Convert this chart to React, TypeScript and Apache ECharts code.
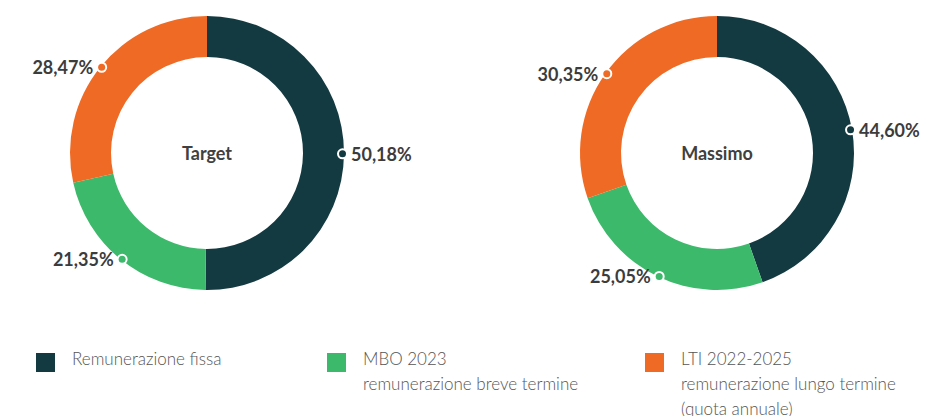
import React, { useEffect, useRef } from "react";
import * as echarts from "echarts";

const categories = ["Remunerazione fissa", "MBO 2023", "LTI 2022-2025"];
const legendSublines = ["", "remunerazione breve termine", "remunerazione lungo termine\n(quota annuale)"];
const chartTitles = ["Target", "Massimo"];
const targetValues = [50.18, 21.35, 28.47];
const massimoValues = [44.6, 25.05, 30.35];

const COLORS = ["#143a41", "#3db96b", "#ef6a24"];
const CENTERS = [
  [207, 153],
  [717, 153],
];
const LEGEND_LEFT = [36, 327, 645];
const FONT = "Lato, 'Open Sans', sans-serif";
// square swatch at the top of a tall, mostly empty icon box so that it lines up with the first text line
const LEGEND_ICON = "path://M0,0L0,0M0,7L19,7L19,26L0,26ZM31,75L31,75";

function fmt(v: number) {
  return v.toFixed(2).replace(".", ",") + "%";
}

function makePie(values: number[], idx: number) {
  const total = values.reduce((a, b) => a + b, 0);
  const base = { fontFamily: FONT, fontSize: 18, fontWeight: "bold", color: "#3c3c3c" };
  const rich: Record<string, any> = {
    vr: { ...base, padding: [0, 0, 0, 5] },
    vl: { ...base, padding: [0, 5, 0, 0] },
  };
  COLORS.forEach((c, i) => {
    rich["d" + i] = {
      width: 7,
      height: 7,
      borderRadius: 6,
      backgroundColor: c,
      borderColor: "#ffffff",
      borderWidth: 2,
    };
  });
  return {
    type: "pie",
    name: chartTitles[idx],
    center: CENTERS[idx],
    radius: [96, 137],
    startAngle: 90,
    clockwise: true,
    avoidLabelOverlap: false,
    silent: true,
    data: values.map((v, i) => ({ name: categories[i], value: v, itemStyle: { color: COLORS[i] } })),
    label: {
      show: true,
      position: "outside",
      distanceToLabelLine: -5,
      formatter: (p: any) => {
        let before = 0;
        for (let i = 0; i < p.dataIndex; i++) before += values[i];
        const mid = (before + values[p.dataIndex] / 2) / total;
        const txt = fmt(values[p.dataIndex]);
        return mid < 0.5
          ? `{d${p.dataIndex}|}{vr|${txt}}`
          : `{vl|${txt}}{d${p.dataIndex}|}`;
      },
      rich,
    },
    labelLine: { show: false, length: 0, length2: 0 },
  };
}

export default function App() {
  const ref = useRef<HTMLDivElement>(null);
  useEffect(() => {
    if (!ref.current) return;
    const chart = echarts.init(ref.current, undefined, { renderer: "svg" });
    const legends = categories.map((c, i) => ({
      left: LEGEND_LEFT[i],
      top: 346,
      padding: 0,
      orient: "vertical",
      icon: LEGEND_ICON,
      itemWidth: 31,
      itemHeight: 75,
      selectedMode: false,
      data: [{ name: c, itemStyle: { color: COLORS[i] } }],
      formatter: (name: string) => {
        const k = categories.indexOf(name);
        const lines = [name, ...legendSublines[k].split("\n").filter((s) => s !== "")];
        while (lines.length < 3) lines.push(" ");
        return lines.join("\n");
      },
      textStyle: {
        fontFamily: FONT,
        fontSize: 17,
        fontWeight: 300,
        color: "#555555",
        lineHeight: 25,
      },
    }));
    chart.setOption({
      animation: false,
      backgroundColor: "#ffffff",
      legend: legends,
      graphic: chartTitles.map((t, i) => ({
        type: "text",
        x: CENTERS[i][0],
        y: CENTERS[i][1],
        style: {
          text: t,
          fontFamily: FONT,
          fontSize: 18,
          fontWeight: "bold",
          fill: "#404040",
          align: "center",
          verticalAlign: "middle",
        },
      })),
      series: [makePie(targetValues, 0), makePie(massimoValues, 1)],
    });
    return () => chart.dispose();
  }, []);
  return (
    <div
      ref={ref}
      style={{ position: "fixed", left: 0, top: 0, width: 941, height: 416 }}
    />
  );
}
